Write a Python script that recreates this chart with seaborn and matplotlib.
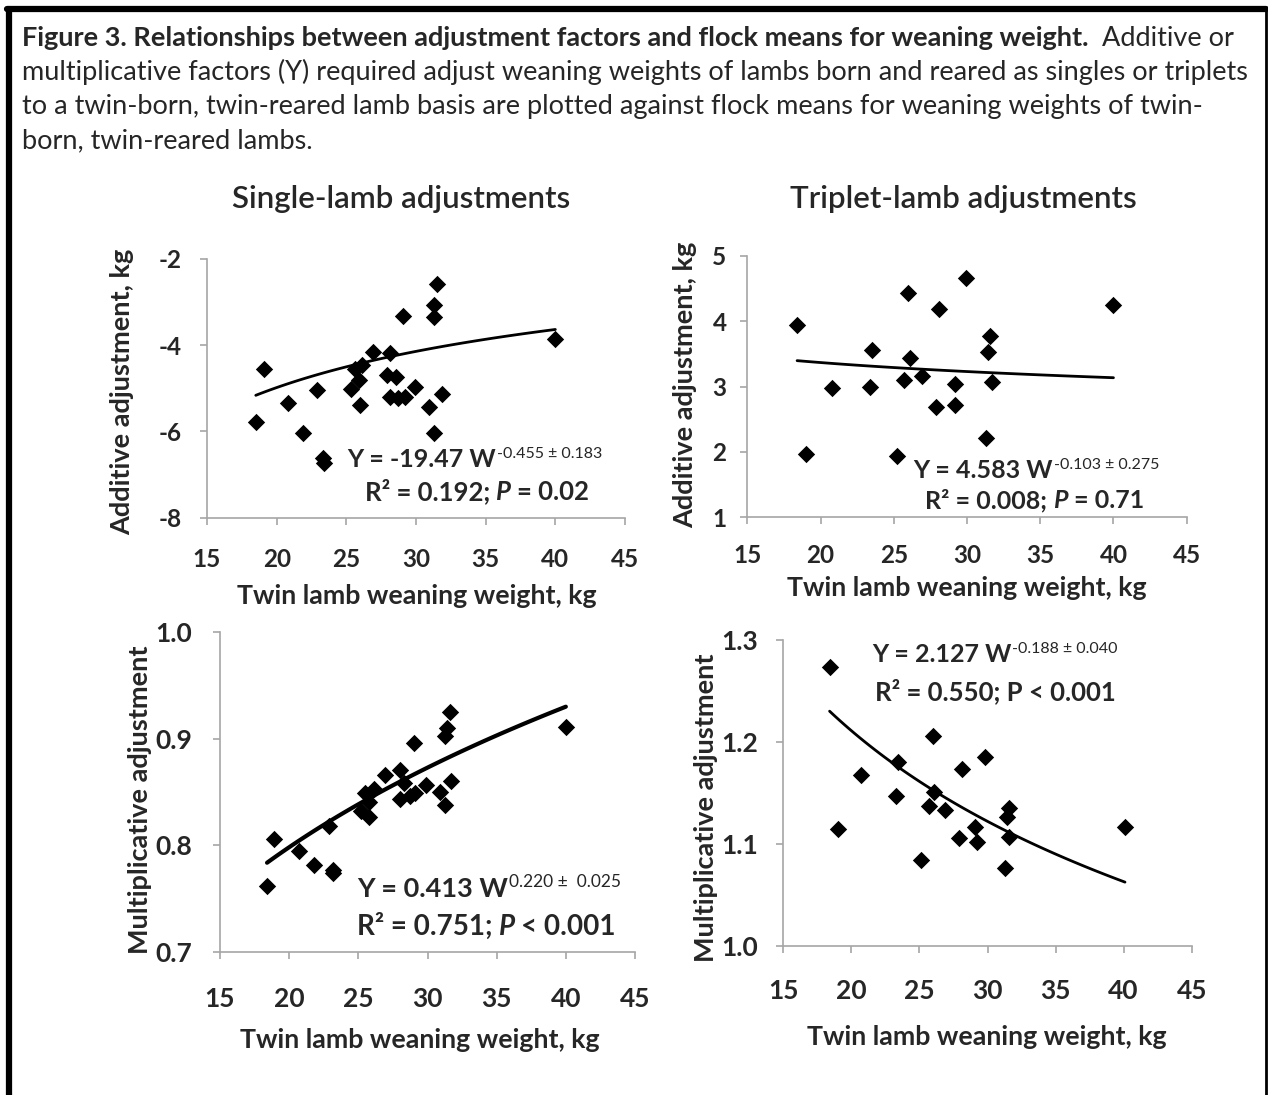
import numpy as np
import seaborn as sns
import matplotlib.pyplot as plt
from matplotlib.lines import Line2D
from matplotlib.ticker import FormatStrFormatter

# flock means (x) and adjustment factors (y)
single_add_x = [18.5, 19.1, 20.8, 21.9, 22.9, 23.3, 23.4, 25.3, 25.6, 25.9, 26.1, 26.0, 26.9, 28.1,
                27.9, 28.6, 28.1, 28.7, 29.2, 29.9, 29.1, 31.5, 31.3, 31.3, 30.9, 31.3, 31.9, 40.0]
single_add_y = [-5.77, -4.54, -5.35, -6.04, -5.04, -6.62, -6.72, -5.02, -4.54, -4.81, -4.46, -5.39, -4.15, -4.19,
                -4.69, -4.73, -5.19, -5.23, -5.19, -4.96, -3.32, -2.59, -3.07, -3.35, -5.43, -6.04, -5.14, -3.86]

triplet_add_x = [18.4, 19.0, 20.8, 23.5, 23.4, 25.2, 26.0, 26.1, 25.7, 26.9,
                 27.9, 28.1, 29.2, 29.2, 29.9, 31.6, 31.4, 31.7, 31.3, 40.0]
triplet_add_y = [3.94, 1.97, 2.97, 3.56, 2.99, 1.94, 4.43, 3.43, 3.10, 3.16,
                 2.68, 4.18, 3.04, 2.71, 4.66, 3.77, 3.53, 3.07, 2.21, 4.25]

single_mult_x = [18.4, 18.9, 20.7, 21.8, 22.9, 23.2, 23.2, 25.2, 25.5, 25.8, 26.1, 25.8, 26.9, 28.0,
                 28.3, 28.0, 28.7, 29.1, 29.0, 29.9, 30.9, 31.7, 31.3, 31.6, 31.4, 31.3, 40.0]
single_mult_y = [0.762, 0.806, 0.795, 0.782, 0.818, 0.777, 0.774, 0.832, 0.849, 0.827, 0.853, 0.841, 0.866, 0.871,
                 0.858, 0.843, 0.846, 0.849, 0.896, 0.857, 0.850, 0.860, 0.838, 0.925, 0.910, 0.902, 0.911]

triplet_mult_x = [18.4, 19.0, 20.7, 23.4, 23.3, 25.1, 26.0, 26.1, 25.7, 26.9,
                  28.1, 27.9, 29.1, 29.2, 29.8, 31.6, 31.4, 31.6, 31.3, 40.1]
triplet_mult_y = [1.274, 1.115, 1.168, 1.180, 1.147, 1.084, 1.206, 1.151, 1.137, 1.133,
                  1.174, 1.106, 1.117, 1.102, 1.185, 1.135, 1.126, 1.107, 1.076, 1.117]

# power fits Y = a * W^b as printed on each panel
fit_a = [-19.47, 4.583, 0.413, 2.127]
fit_b = [-0.455, -0.103, 0.220, -0.188]

x_ticks = [15, 20, 25, 30, 35, 40, 45]

W, H = 1268, 1095
sns.set_style("ticks")
plt.rcParams['font.family'] = ['Lato', 'DejaVu Sans']
plt.rcParams['axes.unicode_minus'] = False

fig = plt.figure(figsize=(W / 100, H / 100), dpi=100)
r = fig.canvas.get_renderer()


def fx(x):
    return x / W


def fy(y):
    return 1 - y / H


def rich(x, y, pieces, size):
    # pieces: (text, weight, style, scale, rise_px, gap_px) placed left to right on baseline y
    cx = x
    for s, weight, style, scale, rise, gap in pieces:
        t = fig.text(fx(cx), fy(y - rise), s, fontsize=size * scale, fontweight=weight,
                     fontstyle=style, va='baseline', ha='left')
        cx += t.get_window_extent(r).width + gap


# frame round the figure
fig.add_artist(Line2D([fx(9), fx(9)], [fy(9), fy(H + 5)], color='black', lw=4.5))
fig.add_artist(Line2D([fx(7), fx(1266)], [fy(9), fy(9)], color='black', lw=4.5))
fig.add_artist(Line2D([fx(1266), fx(1266)], [fy(8), fy(H + 5)], color='black', lw=2))

# caption
cap = 19.5
rich(22, 46, [("Figure 3. Relationships between adjustment factors and flock means for weaning weight.",
               'bold', 'normal', 1, 0, 14),
              ("Additive or", 'normal', 'normal', 1, 0, 0)], cap)
fig.text(fx(22), fy(80), "multiplicative factors (Y) required adjust weaning weights of lambs born and reared as singles or triplets",
         fontsize=cap, va='baseline')
fig.text(fx(22), fy(114), "to a twin-born, twin-reared lamb basis are plotted against flock means for weaning weights of twin-",
         fontsize=cap, va='baseline')
fig.text(fx(22), fy(148), "born, twin-reared lambs.", fontsize=cap, va='baseline')

fig.text(fx(401), fy(199), "Single-lamb adjustments", fontsize=22.5, fontweight='semibold',
         ha='center', va='center')
fig.text(fx(963), fy(199), "Triplet-lamb adjustments", fontsize=22.5, fontweight='semibold',
         ha='center', va='center')

# axes boxes in pixels: left, top, right, bottom
boxes = [(207, 259, 625, 517.7), (747.3, 255.7, 1186.7, 517.3),
         (220, 631.7, 635, 952.3), (783.3, 640, 1191.7, 946)]
ylims = [(-8, -2), (1, 5), (0.7, 1.0), (1.0, 1.3)]
yticks = [[-8, -6, -4, -2], [1, 2, 3, 4, 5], [0.7, 0.8, 0.9, 1.0], [1.0, 1.1, 1.2, 1.3]]
ylabels = ["Additive adjustment, kg", "Additive adjustment, kg",
           "Multiplicative adjustment", "Multiplicative adjustment"]
xlabel_pos = [(417, 596), (967, 588), (420, 1040), (987, 1037)]
ylabel_pos = [(122, 392), (685, 385), (140, 800), (706, 808)]
tick_size = [17.5, 17.5, 19, 19]
xpad = [17, 14, 20, 19]
ypad = [13, 10, 15, 13]
line_w = [2, 2, 3, 2]
xs_all = [single_add_x, triplet_add_x, single_mult_x, triplet_mult_x]
ys_all = [single_add_y, triplet_add_y, single_mult_y, triplet_mult_y]

axes = []
for i in range(4):
    l, t, rr, b = boxes[i]
    ax = fig.add_axes([fx(l), fy(b), (rr - l) / W, (b - t) / H])
    axes.append(ax)
    x = np.array(xs_all[i])
    y = np.array(ys_all[i])
    sns.scatterplot(x=x, y=y, ax=ax, marker='D', s=78, color='black', linewidth=0, zorder=3)
    xf = np.linspace(x.min(), x.max(), 60)
    sns.lineplot(x=xf, y=fit_a[i] * xf ** fit_b[i], ax=ax, color='black', lw=line_w[i], zorder=2)
    ax.set_xlim(15, 45)
    ax.set_ylim(*ylims[i])
    ax.set_xticks(x_ticks)
    ax.set_yticks(yticks[i])
    if i >= 2:
        ax.yaxis.set_major_formatter(FormatStrFormatter('%.1f'))
    ax.set_facecolor('none')
    for side in ['top', 'right']:
        ax.spines[side].set_visible(False)
    for side in ['left', 'bottom']:
        ax.spines[side].set_color('#a6a6a6')
        ax.spines[side].set_linewidth(1.2)
    ax.tick_params(axis='both', direction='out', length=5, width=1.2, color='#a6a6a6',
                   labelsize=tick_size[i])
    ax.tick_params(axis='x', pad=xpad[i])
    ax.tick_params(axis='y', pad=ypad[i])
    for lab in ax.get_xticklabels() + ax.get_yticklabels():
        lab.set_fontweight('bold')
    ax.set_xlabel("Twin lamb weaning weight, kg", fontsize=19.3, fontweight='bold', va='center')
    ax.set_ylabel(ylabels[i], fontsize=19.5, fontweight='bold', va='center')
    ax.xaxis.set_label_coords(fx(xlabel_pos[i][0]), fy(xlabel_pos[i][1]), transform=fig.transFigure)
    ax.yaxis.set_label_coords(fx(ylabel_pos[i][0]), fy(ylabel_pos[i][1]), transform=fig.transFigure)

# fit equations
sup = 0.64
rich(347, 467, [("Y = -19.47 W", 'bold', 'normal', 1, 0, 1),
                ("-0.455 \u00b1 0.183", 'normal', 'normal', sup, 9, 0)], 18)
rich(365, 500, [("R\u00b2 = 0.192;", 'bold', 'normal', 1, 0, 6),
                ("P", 'bold', 'italic', 1, 0, 6),
                ("= 0.02", 'bold', 'normal', 1, 0, 0)], 18.5)
rich(913, 478, [("Y = 4.583 W", 'bold', 'normal', 1, 0, 1),
                ("-0.103 \u00b1 0.275", 'normal', 'normal', sup, 9, 0)], 18)
rich(925, 508, [("R\u00b2 = 0.008;", 'bold', 'normal', 1, 0, 6),
                ("P", 'bold', 'italic', 1, 0, 6),
                ("= 0.71", 'bold', 'normal', 1, 0, 0)], 18)
rich(357, 897, [("Y = 0.413 W", 'bold', 'normal', 1, 0, 1),
                ("0.220 \u00b1  0.025", 'normal', 'normal', sup, 10, 0)], 19.5)
rich(357, 935, [("R\u00b2 = 0.751;", 'bold', 'normal', 1, 0, 6),
                ("P", 'bold', 'italic', 1, 0, 6),
                ("< 0.001", 'bold', 'normal', 1, 0, 0)], 20)
rich(872, 662, [("Y = 2.127 W", 'bold', 'normal', 1, 0, 1),
                ("-0.188 \u00b1 0.040", 'normal', 'normal', sup, 9, 0)], 18)
rich(875, 700, [("R\u00b2 = 0.550; P < 0.001", 'bold', 'normal', 1, 0, 0)], 18.5)

fig.savefig("out.png", dpi=100, facecolor='white')
